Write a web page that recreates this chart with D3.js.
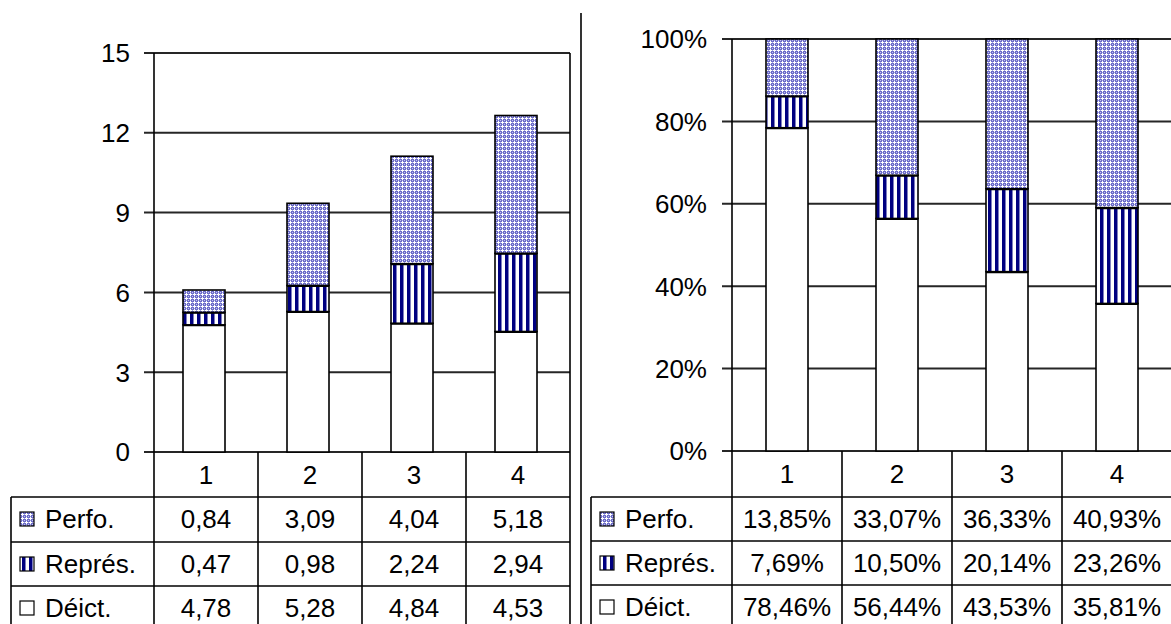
<!DOCTYPE html>
<html>
<head>
<meta charset="utf-8">
<script src="https://cdn.jsdelivr.net/npm/d3@7"></script>
<style>
  body { margin: 0; background: #fff; }
  svg { display: block; font-family: "Liberation Sans", Arial, sans-serif; }
  .grid { stroke: #262626; stroke-width: 2; }
  .frame { stroke: #000; stroke-width: 1.6; }
  text { font-size: 26px; fill: #000; }
</style>
</head>
<body>
<svg width="1171" height="624"></svg>
<script>
var categories = ["1", "2", "3", "4"]
var seriesNames = ["Perfo.", "Représ.", "Déict."]   // table order, top to bottom
var deict = [4.78, 5.28, 4.84, 4.53]
var repres = [0.47, 0.98, 2.24, 2.94]
var perfo = [0.84, 3.09, 4.04, 5.18]
var deictPct = [78.46, 56.44, 43.53, 35.81]
var represPct = [7.69, 10.50, 20.14, 23.26]
var perfoPct = [13.85, 33.07, 36.33, 40.93]
var leftTicks = [0, 3, 6, 9, 12, 15]
var rightTicks = [0, 0.2, 0.4, 0.6, 0.8, 1]

var svg = d3.select("svg")
var defs = svg.append("defs")

var loc = d3.formatLocale({decimal: ",", thousands: " ", grouping: [3], currency: ["", ""]})
var f2 = loc.format(".2f")

// fill patterns
var pc = defs.append("pattern").attr("id", "perfoPat")
  .attr("width", 4).attr("height", 4).attr("patternUnits", "userSpaceOnUse")
pc.append("rect").attr("width", 4).attr("height", 4).attr("fill", "#6b6bc9")
pc.append("rect").attr("x", 0).attr("y", 0).attr("width", 1).attr("height", 1).attr("fill", "#c4c4ec")
pc.append("rect").attr("x", 2).attr("y", 0).attr("width", 1).attr("height", 1).attr("fill", "#a8a8e0")
pc.append("rect").attr("x", 0).attr("y", 2).attr("width", 1).attr("height", 1).attr("fill", "#a8a8e0")
pc.append("rect").attr("x", 1).attr("y", 2).attr("width", 3).attr("height", 1).attr("fill", "#fff")
pc.append("rect").attr("x", 2).attr("y", 1).attr("width", 1).attr("height", 3).attr("fill", "#fff")

var ps = defs.append("pattern").attr("id", "represPat")
  .attr("width", 7).attr("height", 4).attr("patternUnits", "userSpaceOnUse")
ps.append("rect").attr("width", 7).attr("height", 4).attr("fill", "#fff")
ps.append("rect").attr("x", 1).attr("width", 3.5).attr("height", 4).attr("fill", "#000080")

var fills = {"Perfo.": "url(#perfoPat)", "Représ.": "url(#represPat)", "Déict.": "#fff"}

function drawPanel(cfg) {
  var g = svg.append("g")
  var y = d3.scaleLinear().domain(cfg.domain).range([cfg.bottom, cfg.top])
  var x = d3.scaleBand().domain(categories).range([cfg.left, cfg.right]).paddingInner(0).paddingOuter(0)
  var bw = 42

  // gridlines with outward ticks
  g.selectAll(".grid").data(cfg.ticks).enter().append("line")
    .attr("class", "grid")
    .attr("x1", cfg.left - 10).attr("x2", cfg.right)
    .attr("y1", d => y(d)).attr("y2", d => y(d))

  g.selectAll(".tl").data(cfg.ticks).enter().append("text")
    .attr("x", cfg.labelX).attr("y", d => y(d)).attr("dy", "0.36em")
    .attr("text-anchor", "end")
    .text(cfg.tickFmt)

  // stacked bars
  categories.forEach(function(c, i) {
    var cx = x(c) + x.bandwidth() / 2 + cfg.barShift
    var stack = [["Déict.", cfg.d[i]], ["Représ.", cfg.r[i]], ["Perfo.", cfg.p[i]]]
    var base = 0
    stack.forEach(function(s, j) {
      var top = base + s[1]
      g.append("rect")
        .attr("x", cx - bw / 2).attr("width", bw)
        .attr("y", y(top)).attr("height", y(base) - y(top))
        .attr("fill", fills[s[0]])
        .attr("stroke", "#000").attr("stroke-width", 1.6)
      if (j < 2) {
        g.append("line")
          .attr("x1", cx - bw / 2).attr("x2", cx + bw / 2)
          .attr("y1", y(top)).attr("y2", y(top))
          .attr("stroke", "#000").attr("stroke-width", 3)
      }
      base = top
    })
  })

  // table under the plot
  var rowY = [cfg.bottom, cfg.rows[0], cfg.rows[1], cfg.rows[2], 640]
  g.append("line").attr("class", "frame")
    .attr("x1", cfg.left).attr("x2", cfg.left).attr("y1", cfg.top).attr("y2", 624)
  g.append("line").attr("class", "frame")
    .attr("x1", cfg.right).attr("x2", cfg.right).attr("y1", cfg.top).attr("y2", 624)
  categories.slice(1).forEach(function(c) {
    g.append("line").attr("class", "frame")
      .attr("x1", x(c)).attr("x2", x(c)).attr("y1", cfg.bottom).attr("y2", 624)
  })
  g.append("line").attr("class", "frame")
    .attr("x1", cfg.tableLeft).attr("x2", cfg.tableLeft).attr("y1", cfg.rows[0]).attr("y2", 624)
  cfg.rows.forEach(function(ry) {
    g.append("line").attr("class", "frame")
      .attr("x1", cfg.tableLeft).attr("x2", cfg.right).attr("y1", ry).attr("y2", ry)
  })

  categories.forEach(function(c) {
    g.append("text")
      .attr("x", x(c) + x.bandwidth() / 2).attr("y", (rowY[0] + rowY[1]) / 2).attr("dy", "0.36em")
      .attr("text-anchor", "middle").text(c)
  })

  var vals = {"Perfo.": cfg.p, "Représ.": cfg.r, "Déict.": cfg.d}
  seriesNames.forEach(function(s, k) {
    var my = (rowY[k + 1] + rowY[k + 1] + 44) / 2
    g.append("rect")
      .attr("x", cfg.tableLeft + 9).attr("y", my - 7).attr("width", 14).attr("height", 14)
      .attr("fill", fills[s]).attr("stroke", "#000").attr("stroke-width", 1.2)
    g.append("text")
      .attr("x", cfg.tableLeft + 34).attr("y", my).attr("dy", "0.36em").text(s)
    categories.forEach(function(c, i) {
      g.append("text")
        .attr("x", x(c) + x.bandwidth() / 2).attr("y", my).attr("dy", "0.36em")
        .attr("text-anchor", "middle").text(cfg.cellFmt(vals[s][i]))
    })
  })
}

drawPanel({
  domain: [0, 15], ticks: leftTicks, top: 53, bottom: 452, left: 154, right: 570,
  labelX: 130, tableLeft: 11, rows: [497, 542, 586], barShift: -2,
  d: deict, r: repres, p: perfo,
  tickFmt: d => d, cellFmt: v => f2(v)
})

drawPanel({
  domain: [0, 1], ticks: rightTicks, top: 39, bottom: 451, left: 732, right: 1172,
  labelX: 707, tableLeft: 591, rows: [497, 541, 585], barShift: 0,
  d: deictPct.map(v => v / 100), r: represPct.map(v => v / 100), p: perfoPct.map(v => v / 100),
  tickFmt: d => Math.round(d * 100) + "%", cellFmt: v => f2(v * 100) + "%"
})

// separator between the two panels
svg.append("line").attr("class", "frame")
  .attr("x1", 581).attr("x2", 581).attr("y1", 13).attr("y2", 624)
</script>
</body>
</html>
